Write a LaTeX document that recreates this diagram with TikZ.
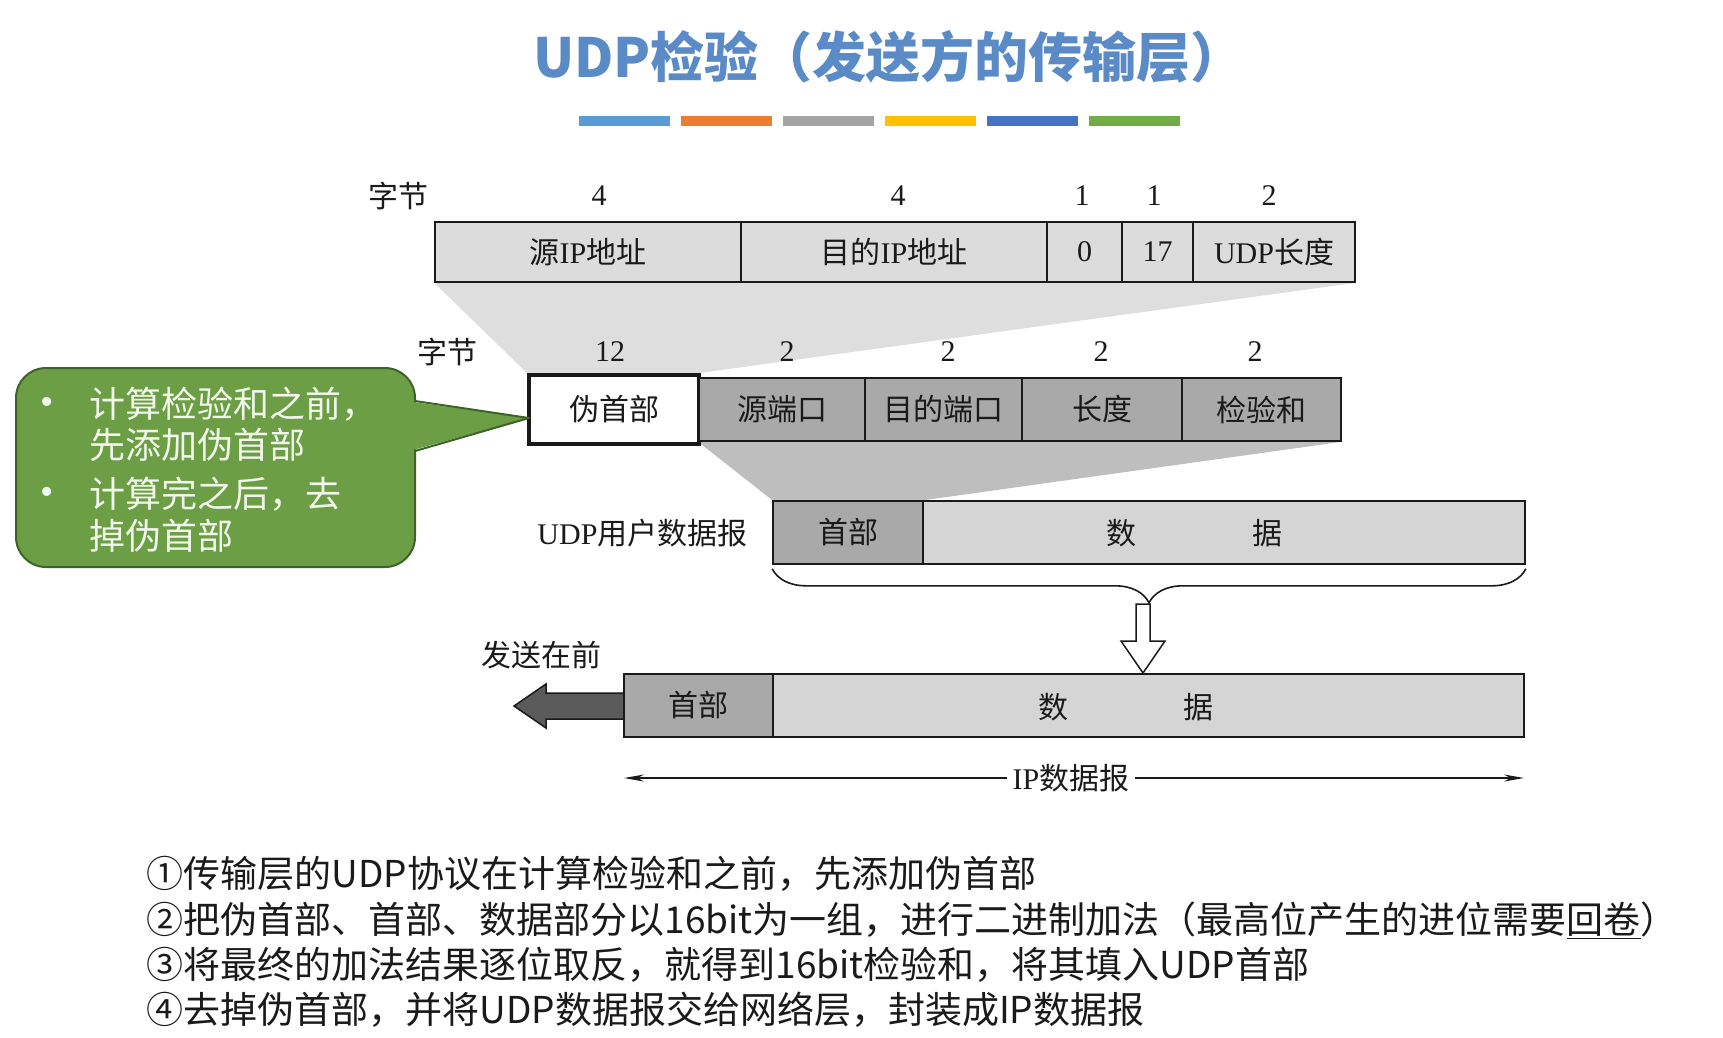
\documentclass[tikz,border=0pt]{standalone}
\usepackage{fontspec}
\setmainfont{Liberation Serif}
\newfontfamily\cjk{Noto Sans CJK SC}
\usetikzlibrary{arrows.meta,decorations.pathreplacing,backgrounds}
\definecolor{titleblue}{HTML}{5A8BC6}
\definecolor{barblue}{HTML}{5B9BD5}
\definecolor{barorange}{HTML}{ED7D31}
\definecolor{bargray}{HTML}{A5A5A5}
\definecolor{baryellow}{HTML}{FFC000}
\definecolor{barnavy}{HTML}{4472C4}
\definecolor{bargreen}{HTML}{70AD47}
\definecolor{fieldlight}{HTML}{DCDCDC}
\definecolor{fielddark}{HTML}{A9A9A9}
\definecolor{funnellight}{HTML}{DEDEDE}
\definecolor{funneldark}{HTML}{BEBEBE}
\definecolor{datalight}{HTML}{D5D5D5}
\definecolor{sendgray}{HTML}{5A5A5A}
\definecolor{notegreen}{HTML}{6C9E46}
\definecolor{noteedge}{HTML}{3E6329}
\definecolor{notetext}{HTML}{F2F7EC}
\definecolor{diagink}{HTML}{1A1A1A}

\newcommand{\zh}[1]{{\cjk #1}}

\begin{document}
\begin{tikzpicture}[
  x=1pt,
  y=-1pt,
  every node/.style={font=\fontsize{30}{36}\selectfont, text=diagink},
  fieldbox/.style={draw=diagink, line width=1.6pt, inner sep=0pt, fill=fieldlight},
  darkbox/.style={fieldbox, fill=fielddark},
  databox/.style={fieldbox, fill=datalight},
  notetxt/.style={anchor=west, text=notetext, font=\cjk\fontsize{36}{42}\selectfont},
  steptxt/.style={anchor=west, font=\cjk\fontsize{37}{44}\selectfont}
]
  \useasboundingbox (0,0) rectangle (1723,1037);

  \node[font=\fontsize{54}{62}\selectfont\cjk\bfseries, text=titleblue] (title)
    at (889,57) {UDP检验（发送方的传输层）};
  \foreach \c [count=\i] in {barblue,barorange,bargray,baryellow,barnavy,bargreen}
    \fill[\c] (579+102*\i-102,116) rectangle ++(91,10);

  % pseudo header
  \node (bytes1) at (398,196) {\zh{字节}};
  \foreach \x/\n [count=\i] in {599/4, 898/4, 1082/1, 1154/1, 1269/2}
    \node (top\i) at (\x,196) {\n};
  \node[fieldbox, minimum width=306pt, minimum height=60pt] (srcip) at (588,252) {\zh{源}IP\zh{地址}};
  \node[fieldbox, minimum width=306pt, minimum height=60pt] (dstip) at (894,252) {\zh{目的}IP\zh{地址}};
  \node[fieldbox, minimum width=75pt, minimum height=60pt] (zero) at (1084.5,252) {0};
  \node[fieldbox, minimum width=71pt, minimum height=60pt] (proto) at (1157.5,252) {17};
  \node[fieldbox, minimum width=162pt, minimum height=60pt] (udplen) at (1274,252) {UDP\zh{长度}};

  % udp header
  \node (bytes2) at (447,352) {\zh{字节}};
  \foreach \x/\n [count=\i] in {610/12, 787/2, 948/2, 1101/2, 1255/2}
    \node (mid\i) at (\x,352) {\n};
  \node[fieldbox, fill=white, line width=4.5pt, minimum width=170pt, minimum height=69pt] (pseudo)
    at (614,409.5) {\zh{伪首部}};
  \node[darkbox, minimum width=166pt, minimum height=63pt] (srcport) at (782,409.5) {\zh{源端口}};
  \node[darkbox, minimum width=157pt, minimum height=63pt] (dstport) at (943.5,409.5) {\zh{目的端口}};
  \node[darkbox, minimum width=160pt, minimum height=63pt] (length) at (1102,409.5) {\zh{长度}};
  \node[darkbox, minimum width=159pt, minimum height=63pt] (checksum) at (1261.5,409.5) {\zh{检验和}};

  % udp datagram
  \node[anchor=east] (udplabel) at (751,533) {UDP\zh{用户数据报}};
  \node[darkbox, minimum width=150pt, minimum height=63pt] (udphead) at (848,532.5) {\zh{首部}};
  \node[databox, minimum width=602pt, minimum height=63pt] (udpdata) at (1224,532.5) {};
  \node (udpd1) at (1121,533) {\zh{数}};
  \node (udpd2) at (1267,533) {\zh{据}};

  \begin{scope}[on background layer]
    \fill[funnellight] (srcip.south west) -- (udplen.south east)
      -- (pseudo.north east) -- (pseudo.north west) -- cycle;
    \fill[funneldark] (srcport.south west) -- (checksum.south east)
      -- (udphead.north east) -- (udphead.north west) -- cycle;
  \end{scope}

  \draw[diagink, line width=1.6pt, decorate, decoration={brace, mirror, amplitude=34pt}]
    ([yshift=-4pt]udphead.south west) -- ([yshift=-4pt]udpdata.south east);
  \draw[diagink, line width=1.5pt, fill=white]
    (1136,604) -- (1150,604) -- (1150,641) -- (1165,641) -- (1143,673)
    -- (1121,641) -- (1136,641) -- cycle;

  % ip datagram
  \node (sendfirst) at (541,655) {\zh{发送在前}};
  \draw[diagink, line width=1.5pt, fill=sendgray]
    (624,693) -- (546,693) -- (546,684) -- (514,706) -- (546,728) -- (546,719) -- (624,719);
  \node[darkbox, minimum width=149pt, minimum height=63pt] (iphead) at (698.5,705.5) {\zh{首部}};
  \node[databox, minimum width=751pt, minimum height=63pt] (ipdata) at (1148.5,705.5) {};
  \node (ipd1) at (1053,707) {\zh{数}};
  \node (ipd2) at (1198,707) {\zh{据}};

  \coordinate (ipL) at (624,778);
  \coordinate (ipR) at (1524,778);
  \draw[diagink, line width=1.5pt, {Stealth[length=20pt,width=7pt]}-{Stealth[length=20pt,width=7pt]}]
    (ipL) -- (ipR);
  \node[fill=white, inner xsep=6pt] (iplabel) at (1071,778) {IP\zh{数据报}};

  % note
  \filldraw[fill=notegreen, draw=noteedge, line width=2pt, rounded corners=30pt]
    (16,368) rectangle (415,567);
  \fill[notegreen] (413,402) -- (529,418) -- (413,450) -- cycle;
  \draw[noteedge, line width=2pt, line join=round] (415,401) -- (529,418) -- (415,451);
  \node[text=notetext, font=\fontsize{38}{44}\selectfont] (dot1) at (47,406) {•};
  \node[text=notetext, font=\fontsize{38}{44}\selectfont] (dot2) at (47,496) {•};
  \node[notetxt] (note1) at (86,404) {计算检验和之前，};
  \node[notetxt] (note2) at (86,445) {先添加伪首部};
  \node[notetxt] (note3) at (86,494) {计算完之后，去};
  \node[notetxt] (note4) at (86,536) {掉伪首部};

  % steps
  \node[steptxt] (step1) at (143,874) {①传输层的UDP协议在计算检验和之前，先添加伪首部};
  \node[steptxt] (step2) at (143,920) {②把伪首部、首部、数据部分以16bit为一组，进行二进制加法（最高位产生的进位需要\underline{回卷}）};
  \node[steptxt] (step3) at (143,965) {③将最终的加法结果逐位取反，就得到16bit检验和，将其填入UDP首部};
  \node[steptxt] (step4) at (143,1010) {④去掉伪首部，并将UDP数据报交给网络层，封装成IP数据报};
\end{tikzpicture}
\end{document}
